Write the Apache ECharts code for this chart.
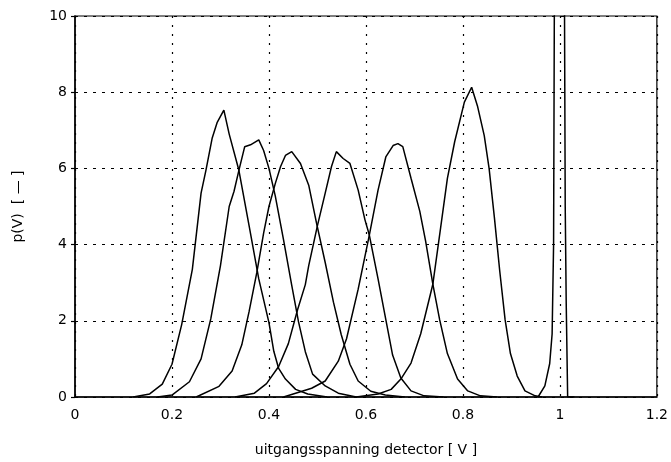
<!DOCTYPE html>
<html>
<head>
<meta charset="utf-8">
<script src="https://cdn.jsdelivr.net/npm/echarts@6/dist/echarts.min.js"></script>
<style>
html,body{margin:0;padding:0;background:#fff;}
#chart{width:671px;height:462px;}
</style>
</head>
<body>
<div id="chart"></div>
<script>
// Tick labels
const xTicks = [0, 0.2, 0.4, 0.6, 0.8, 1, 1.2];
const yTicks = [0, 2, 4, 6, 8, 10];

// Curve 1
const v1 = [0.12, 0.154, 0.18, 0.20, 0.22, 0.242, 0.26, 0.27, 0.283, 0.293, 0.307, 0.318, 0.338, 0.359, 0.379, 0.40, 0.41, 0.42, 0.434, 0.455, 0.48, 0.52];
const p1 = [0, 0.08, 0.34, 0.86, 1.9, 3.35, 5.35, 5.95, 6.8, 7.2, 7.53, 6.9, 5.95, 4.5, 3.1, 1.95, 1.2, 0.75, 0.47, 0.2, 0.08, 0];
// Curve 2
const v2 = [0.17, 0.20, 0.236, 0.26, 0.28, 0.30, 0.318, 0.328, 0.338, 0.35, 0.362, 0.379, 0.389, 0.40, 0.413, 0.43, 0.447, 0.461, 0.475, 0.49, 0.516, 0.543, 0.58];
const p2 = [0, 0.05, 0.4, 1.0, 2.05, 3.45, 5.0, 5.4, 5.95, 6.57, 6.62, 6.75, 6.47, 6.0, 5.28, 4.13, 2.93, 1.97, 1.19, 0.6, 0.29, 0.1, 0];
// Curve 3
const v3 = [0.25, 0.297, 0.324, 0.344, 0.359, 0.375, 0.389, 0.40, 0.413, 0.424, 0.434, 0.447, 0.465, 0.482, 0.498, 0.516, 0.533, 0.549, 0.567, 0.584, 0.61, 0.64, 0.68];
const p3 = [0, 0.28, 0.68, 1.37, 2.24, 3.27, 4.3, 5.0, 5.6, 6.05, 6.34, 6.44, 6.13, 5.56, 4.57, 3.53, 2.49, 1.64, 0.86, 0.42, 0.15, 0.05, 0];
// Curve 4
const v4 = [0.33, 0.37, 0.395, 0.42, 0.44, 0.459, 0.475, 0.482, 0.50, 0.516, 0.529, 0.539, 0.553, 0.567, 0.584, 0.598, 0.607, 0.625, 0.643, 0.655, 0.672, 0.693, 0.72, 0.76];
const p4 = [0, 0.1, 0.35, 0.8, 1.4, 2.29, 2.95, 3.45, 4.5, 5.35, 6.05, 6.44, 6.26, 6.13, 5.43, 4.65, 4.25, 3.1, 1.9, 1.1, 0.5, 0.16, 0.03, 0];
// Curve 5
const v5 = [0.43, 0.455, 0.488, 0.516, 0.543, 0.56, 0.584, 0.607, 0.625, 0.641, 0.656, 0.666, 0.676, 0.693, 0.711, 0.723, 0.738, 0.752, 0.768, 0.789, 0.81, 0.836, 0.87];
const p5 = [0, 0.1, 0.23, 0.42, 0.94, 1.53, 2.83, 4.25, 5.43, 6.3, 6.6, 6.65, 6.57, 5.74, 4.88, 4.1, 2.96, 2.03, 1.14, 0.47, 0.16, 0.03, 0];
// Curve 6
const v6 = [0.58, 0.625, 0.652, 0.672, 0.693, 0.713, 0.738, 0.754, 0.768, 0.783, 0.803, 0.818, 0.83, 0.844, 0.854, 0.865, 0.876, 0.887, 0.898, 0.912, 0.928, 0.949, 0.963];
const p6 = [0, 0.08, 0.2, 0.47, 0.89, 1.66, 2.96, 4.44, 5.74, 6.7, 7.74, 8.13, 7.64, 6.86, 6.0, 4.7, 3.3, 2.03, 1.14, 0.55, 0.16, 0.03, 0];
// Spike near 1 V (clipped at top)
const v7 = [0.955, 0.969, 0.979, 0.984, 0.987, 0.989, 0.999, 1.009, 1.011, 1.013, 1.016, 1.03];
const p7 = [0, 0.29, 0.88, 1.66, 4, 12, 60, 12, 5, 2.5, 0, 0];

const curves = [[v1, p1], [v2, p2], [v3, p3], [v4, p4], [v5, p5], [v6, p6], [v7, p7]];

const FONT = 'DejaVu Sans';
const chart = echarts.init(document.getElementById('chart'), null, {renderer: 'canvas'});

chart.setOption({
  animation: false,
  backgroundColor: '#fff',
  grid: {left: 75, right: 10, top: 16, bottom: 61, show: true, borderColor: '#000', borderWidth: 1.2, containLabel: false},
  xAxis: {
    type: 'value', min: xTicks[0], max: xTicks[xTicks.length - 1], interval: 0.2,
    name: 'uitgangsspanning detector [ V ]', nameLocation: 'middle', nameGap: 46,
    nameTextStyle: {fontFamily: FONT, fontSize: 14, color: '#000'},
    axisLine: {show: true, lineStyle: {color: '#000', width: 1.5}},
    axisTick: {show: false},
    axisLabel: {fontFamily: FONT, fontSize: 14, color: '#000', margin: 11},
    splitLine: {show: true, lineStyle: {color: '#000', width: 1.2, type: [2, 7]}}
  },
  yAxis: {
    type: 'value', min: yTicks[0], max: yTicks[yTicks.length - 1], interval: 2,
    name: 'p(V)  [ — ]', nameLocation: 'middle', nameGap: 50, nameRotate: 90,
    nameTextStyle: {fontFamily: FONT, fontSize: 14, color: '#000'},
    axisLine: {show: true, lineStyle: {color: '#000', width: 1.5}},
    axisTick: {show: true, length: 4, lineStyle: {color: '#000', width: 1.2}},
    axisLabel: {fontFamily: FONT, fontSize: 14, color: '#000', margin: 8},
    splitLine: {show: true, lineStyle: {color: '#000', width: 1.2, type: [3, 6]}}
  },
  series: curves.map(function (c, i) {
    return {
      type: 'line', name: 'c' + (i + 1), clip: true, showSymbol: false, smooth: false,
      lineStyle: {color: '#000', width: 1.5},
      data: c[0].map(function (x, k) { return [x, c[1][k]]; })
    };
  })
});
</script>
</body>
</html>
